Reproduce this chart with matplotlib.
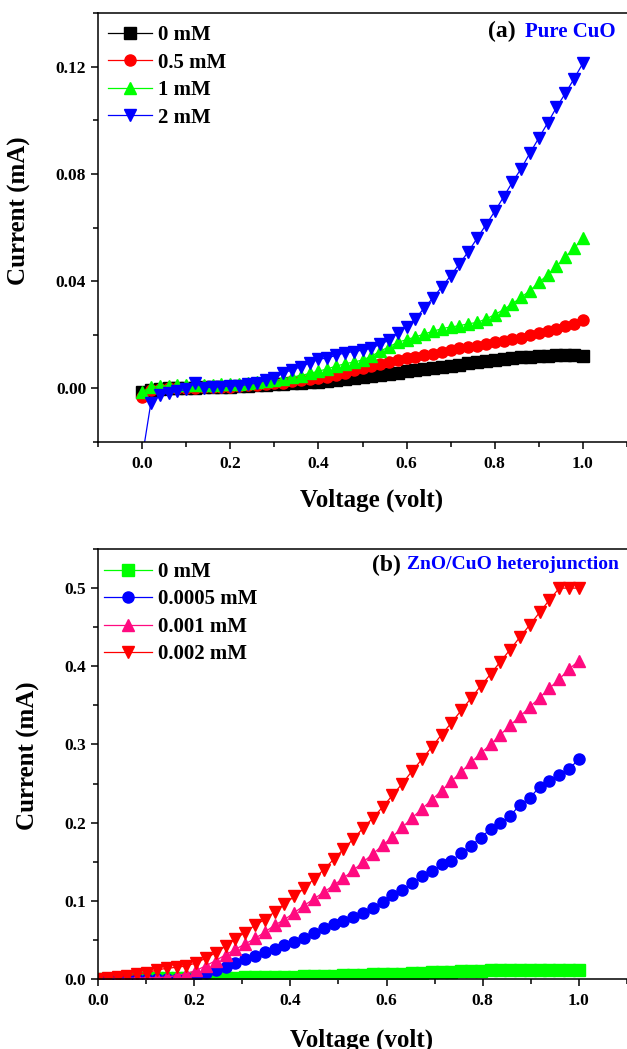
import numpy as np
import matplotlib
matplotlib.use("Agg")
import matplotlib.pyplot as plt
from matplotlib.ticker import MultipleLocator, FormatStrFormatter

plt.rcParams['font.family'] = ['Liberation Serif', 'DejaVu Serif']
plt.rcParams['font.weight'] = 'bold'
plt.rcParams['axes.labelweight'] = 'bold'

# ---- (a) Pure CuO ----
volt_a = np.linspace(0, 1, 51)
labels_a = ['0 mM', '0.5 mM', '1 mM', '2 mM']
cur_0 = [-0.0015, -0.0005, -0.0002, 0.0, 0.0001, 0.0002, 0.0003, 0.0004, 0.0005, 0.0006,
         0.0007, 0.0008, 0.0009, 0.0011, 0.0013, 0.0015, 0.0017, 0.0019, 0.0021, 0.0023,
         0.0025, 0.0028, 0.0031, 0.0035, 0.0039, 0.0043, 0.0047, 0.0051, 0.0055, 0.0059,
         0.0064, 0.0068, 0.0072, 0.0076, 0.0080, 0.0085, 0.0089, 0.0093, 0.0098, 0.0103,
         0.0107, 0.0111, 0.0114, 0.0117, 0.0119, 0.0121, 0.0122, 0.0123, 0.0123, 0.0123,
         0.0122]
cur_05 = [-0.0032, -0.0006, -0.0002, 0.0, 0.0001, 0.0002, 0.0003, 0.0004, 0.0005, 0.0006,
          0.0007, 0.0009, 0.0011, 0.0013, 0.0016, 0.0019, 0.0022, 0.0026, 0.0030, 0.0034,
          0.0038, 0.0043, 0.0050, 0.0058, 0.0067, 0.0076, 0.0085, 0.0092, 0.0099, 0.0105,
          0.0112, 0.0118, 0.0124, 0.0130, 0.0137, 0.0143, 0.0149, 0.0155, 0.0160, 0.0166,
          0.0172, 0.0178, 0.0183, 0.0189, 0.0198, 0.0205, 0.0214, 0.0222, 0.0232, 0.0242,
          0.0254]
cur_1 = [-0.0014, 0.0005, 0.0008, 0.0010, 0.0011, 0.0012, 0.0012, 0.0013, 0.0014, 0.0015,
         0.0016, 0.0018, 0.0020, 0.0023, 0.0027, 0.0030, 0.0036, 0.0042, 0.0048, 0.0056,
         0.0064, 0.0073, 0.0083, 0.0092, 0.0098, 0.0106, 0.0120, 0.0139, 0.0155, 0.0172,
         0.0182, 0.0192, 0.0203, 0.0213, 0.0223, 0.0229, 0.0234, 0.0241, 0.0246, 0.0259,
         0.0275, 0.0294, 0.0316, 0.0340, 0.0365, 0.0395, 0.0424, 0.0455, 0.0490, 0.0523,
         0.0560]
cur_2 = [-0.026, -0.0053, -0.0026, -0.0016, -0.0010, -0.0004, 0.0020, 0.0002, 0.0005, 0.0006,
         0.0009, 0.0009, 0.0015, 0.0020, 0.0030, 0.0040, 0.0056, 0.0070, 0.0080, 0.0095,
         0.0108, 0.0114, 0.0123, 0.0133, 0.0137, 0.0143, 0.0150, 0.0164, 0.0180, 0.0207,
         0.0230, 0.0260, 0.0300, 0.0338, 0.0379, 0.0420, 0.0465, 0.0510, 0.0560, 0.0610,
         0.0660, 0.0714, 0.0769, 0.0820, 0.0878, 0.0934, 0.0990, 0.1048, 0.1100, 0.1155,
         0.1213]

# ---- (b) ZnO/CuO heterojunction ----
volt_b = np.linspace(0, 1, 50)
labels_b = ['0 mM', '0.0005 mM', '0.001 mM', '0.002 mM']
het_0 = [0.0, 0.0002, 0.0004, 0.0005, 0.0006, 0.0007, 0.0008, 0.0009, 0.0010, 0.0011,
         0.0012, 0.0013, 0.0015, 0.0017, 0.0019, 0.0021, 0.0023, 0.0025, 0.0027, 0.0029,
         0.0031, 0.0034, 0.0037, 0.0040, 0.0043, 0.0046, 0.0050, 0.0054, 0.0058, 0.0062,
         0.0066, 0.0070, 0.0074, 0.0079, 0.0084, 0.0089, 0.0094, 0.0099, 0.0104, 0.0108,
         0.0111, 0.0113, 0.0115, 0.0117, 0.0118, 0.0119, 0.0120, 0.0120, 0.0120, 0.0120]
het_00005 = [0.0, 0.0, 0.0, 0.0, 0.0, 0.0, 0.0, 0.0002, 0.0005, 0.0010,
             0.0030, 0.0080, 0.0120, 0.0160, 0.0210, 0.0260, 0.0300, 0.0340, 0.0390, 0.0430,
             0.0480, 0.0530, 0.0595, 0.0647, 0.0700, 0.0746, 0.0790, 0.0850, 0.0914, 0.0990,
             0.1080, 0.1140, 0.1230, 0.1315, 0.1380, 0.1466, 0.1510, 0.1610, 0.1700, 0.1810,
             0.1918, 0.1996, 0.2090, 0.2228, 0.2319, 0.2457, 0.2530, 0.2608, 0.2685, 0.2815]
het_0001 = [0.0, 0.0005, 0.0008, 0.0010, 0.0012, 0.0015, 0.0017, 0.0026, 0.0043, 0.0070,
            0.0110, 0.0170, 0.0237, 0.0310, 0.0380, 0.0450, 0.0520, 0.0600, 0.0690, 0.0760,
            0.0850, 0.0940, 0.1026, 0.1110, 0.1200, 0.1290, 0.1390, 0.1496, 0.1600, 0.1710,
            0.1820, 0.1940, 0.2060, 0.2177, 0.2290, 0.2410, 0.2530, 0.2650, 0.2770, 0.2890,
            0.3000, 0.3125, 0.3246, 0.3360, 0.3480, 0.3600, 0.3720, 0.3836, 0.3966, 0.4070]
het_0002 = [0.0, 0.0017, 0.0030, 0.0043, 0.0060, 0.0080, 0.0115, 0.0137, 0.0150, 0.0167,
            0.0207, 0.0267, 0.0336, 0.0420, 0.0517, 0.0595, 0.0690, 0.0760, 0.0860, 0.0957,
            0.1056, 0.1160, 0.1280, 0.1400, 0.1530, 0.1660, 0.1790, 0.1930, 0.2060, 0.2200,
            0.2350, 0.2500, 0.2660, 0.2810, 0.2966, 0.3125, 0.3276, 0.3435, 0.3590, 0.3750,
            0.3900, 0.4060, 0.4215, 0.4375, 0.4530, 0.4690, 0.4850, 0.5000, 0.5000, 0.5000]

fig = plt.figure(figsize=(6.27, 10.49), dpi=100)
ax1 = fig.add_axes([0.1563, 0.5786, 0.8437, 0.4090])
ax2 = fig.add_axes([0.1563, 0.0667, 0.8437, 0.4099])

styles_a = [('black', 's'), ('red', 'o'), ('#00FF00', '^'), ('blue', 'v')]
for y, lab, (c, m) in zip([cur_0, cur_05, cur_1, cur_2], labels_a, styles_a):
    ax1.plot(volt_a, y, color=c, marker=m, markersize=8, lw=0.9, label=lab)

styles_b = [('#00FF00', 's'), ('blue', 'o'), ('#FF0A80', '^'), ('red', 'v')]
for y, lab, (c, m) in zip([het_0, het_00005, het_0001, het_0002], labels_b, styles_b):
    ax2.plot(volt_b, y, color=c, marker=m, markersize=8, lw=0.9, label=lab)

ax1.set_xlim(-0.1, 1.1)
ax1.set_ylim(-0.02, 0.14)
ax1.yaxis.set_major_locator(MultipleLocator(0.04))
ax1.yaxis.set_minor_locator(MultipleLocator(0.02))
ax1.yaxis.set_major_formatter(FormatStrFormatter('%.2f'))

ax2.set_xlim(0, 1.1)
ax2.set_ylim(0, 0.55)
ax2.yaxis.set_major_locator(MultipleLocator(0.1))
ax2.yaxis.set_minor_locator(MultipleLocator(0.05))
ax2.yaxis.set_major_formatter(FormatStrFormatter('%.1f'))

for ax in (ax1, ax2):
    ax.xaxis.set_major_locator(MultipleLocator(0.2))
    ax.xaxis.set_minor_locator(MultipleLocator(0.1))
    ax.xaxis.set_major_formatter(FormatStrFormatter('%.1f'))
    ax.tick_params(which='both', direction='out', top=False, right=False,
                   width=1.1, labelsize=12.5)
    ax.tick_params(which='major', length=5)
    ax.tick_params(which='minor', length=3.5)
    ax.tick_params(axis='x', pad=5)
    ax.spines['right'].set_visible(False)
    for s in ('left', 'bottom', 'top'):
        ax.spines[s].set_linewidth(1.1)
    ax.set_xlabel('Voltage (volt)', fontsize=18, va='center')
    ax.set_ylabel('Current (mA)', fontsize=18, va='center')

ax1.xaxis.set_label_coords(0.517, -0.135)
ax1.yaxis.set_label_coords(-0.149, 0.54)
ax2.xaxis.set_label_coords(0.499, -0.142)
ax2.yaxis.set_label_coords(-0.132, 0.52)

ax1.legend(loc='upper left', bbox_to_anchor=(0.019, 0.972), frameon=False, fontsize=15,
           borderpad=0, borderaxespad=0, handlelength=2.1, handletextpad=0.3,
           labelspacing=0.36)
ax2.legend(loc='upper left', bbox_to_anchor=(0.011, 0.97), frameon=False, fontsize=15,
           borderpad=0, borderaxespad=0, handlelength=2.3, handletextpad=0.3,
           labelspacing=0.36)

ax1.text(0.79, 0.956, '(a)', transform=ax1.transAxes, fontsize=17, ha='right', va='center')
ax1.text(0.8075, 0.956, 'Pure CuO', transform=ax1.transAxes, fontsize=15, color='blue',
         ha='left', va='center')
ax2.text(0.5725, 0.963, '(b)', transform=ax2.transAxes, fontsize=17, ha='right', va='center')
ax2.text(0.584, 0.963, 'ZnO/CuO heterojunction', transform=ax2.transAxes, fontsize=14,
         color='blue', ha='left', va='center')

fig.savefig('out.png', dpi=100)
